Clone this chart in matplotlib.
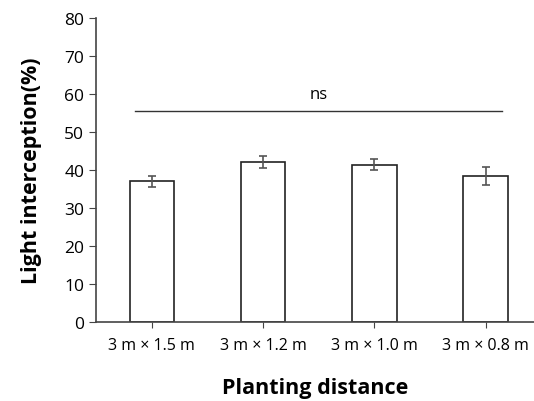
import matplotlib.pyplot as plt

plt.rcParams['font.family'] = ['Open Sans', 'DejaVu Sans']

distances = ['3 m × 1.5 m', '3 m × 1.2 m', '3 m × 1.0 m', '3 m × 0.8 m']
light = [37.0, 42.1, 41.4, 38.4]
err = [1.5, 1.5, 1.4, 2.4]
ns_level = 55.5

fig = plt.figure(figsize=(5.34, 4.02), dpi=100)
ax = fig.add_axes([0.18, 0.196, 0.82, 0.757])

x = range(len(distances))
ax.bar(x, light, width=0.4, color='white', edgecolor='#222222', linewidth=1.2,
       yerr=err, capsize=3, error_kw=dict(ecolor='#555555', elinewidth=1.2, capthick=1.2))

ax.plot([-0.15, 3.15], [ns_level, ns_level], color='#333333', linewidth=1)
ax.text(1.5, ns_level + 2.3, 'ns', ha='center', va='bottom', fontsize=12)

ax.set_xlim(-0.5, 3.435)
ax.set_ylim(0, 80)
ax.set_yticks(range(0, 81, 10))
ax.set_xticks(list(x))
ax.set_xticklabels(distances, fontsize=11.5)
ax.tick_params(axis='y', labelsize=12.5, length=5, color='#444444')
ax.tick_params(axis='x', length=4, pad=7, color='#444444')

for s in ['top', 'right']:
    ax.spines[s].set_visible(False)
for s in ['left', 'bottom']:
    ax.spines[s].set_color('#444444')
    ax.spines[s].set_linewidth(1.2)

ax.set_ylabel('Light interception(%)', fontsize=15.5, fontweight='bold', labelpad=16)
ax.set_xlabel('Planting distance', fontsize=15.5, fontweight='bold', labelpad=17)

fig.savefig('out.png', dpi=100)
